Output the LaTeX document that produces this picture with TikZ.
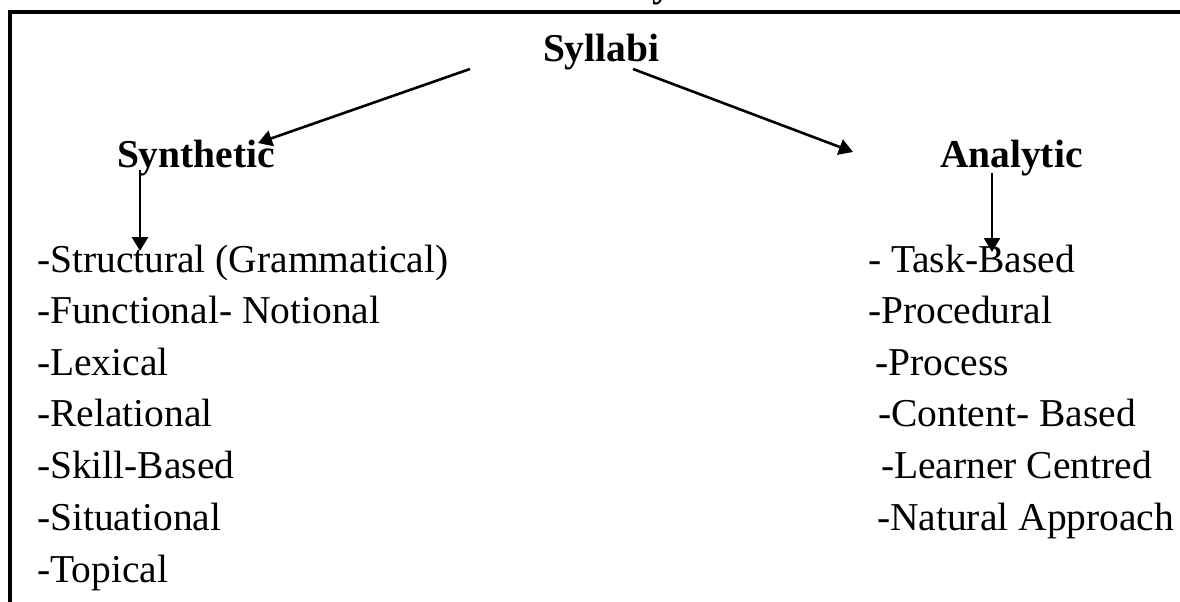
\documentclass[tikz,border=0pt]{standalone}
\usepackage{fontspec}
\setmainfont{Liberation Serif}
\usetikzlibrary{arrows.meta}
\begin{document}
\begin{tikzpicture}[x=1pt,y=-1pt,
  item/.style={anchor=base west,inner sep=0pt,outer sep=0pt,
               font=\fontsize{39.5}{47}\selectfont},
  head/.style={item,font=\fontsize{39.5}{47}\selectfont\bfseries},
  link/.style={line width=2.6pt,-{Triangle[length=14pt,width=16pt]}},
  frame/.style={line width=4pt}]
\useasboundingbox (0,0) rectangle (1180,602);

% open frame: top and left rules only
\draw[frame] (1185,12.5) -- (10.3,12.5) -- (10.3,610);
\begin{scope}
  \clip (0,0) rectangle (1180,602);
  \node[head] (cut) at (652,-3.5) {y};
\end{scope}

% headings
\node[head] (syl) at (543,62) {Syllabi};
\node[head] (syn) at (117,167) {Synthetic};
\node[head] (ana) at (940,167) {Analytic};

% synthetic syllabi
\node[item] (l1) at (37,272) {-Structural (Grammatical)};
\node[item] (l2) at (37,323.5) {-Functional- Notional};
\node[item] (l3) at (37,375) {-Lexical};
\node[item] (l4) at (37,426.5) {-Relational};
\node[item] (l5) at (37,478) {-Skill-Based};
\node[item] (l6) at (37,530) {-Situational};
\node[item] (l7) at (37,582) {-Topical};

% analytic syllabi
\node[item] (r1) at (868,272) {- Task-Based};
\node[item] (r2) at (868,323.5) {-Procedural};
\node[item] (r3) at (875,375) {-Process};
\node[item] (r4) at (878,426.5) {-Content- Based};
\node[item] (r5) at (881,478) {-Learner Centred};
\node[item] (r6) at (877,530) {-Natural Approach};

% connector ends
\coordinate (sylL) at (470,69);
\coordinate (sylR) at (633,69);
\coordinate (synTip) at (258,143);
\coordinate (anaTip) at (853,152);
\coordinate (synTop) at (140,170);
\coordinate (synTip2) at (140,251);
\coordinate (anaTop) at (992,173);
\coordinate (anaTip2) at (992,252);

\draw[link] (sylL) -- (synTip);
\draw[link] (sylR) -- (anaTip);
\draw[link] (synTop) -- (synTip2);
\draw[link] (anaTop) -- (anaTip2);
\end{tikzpicture}
\end{document}
